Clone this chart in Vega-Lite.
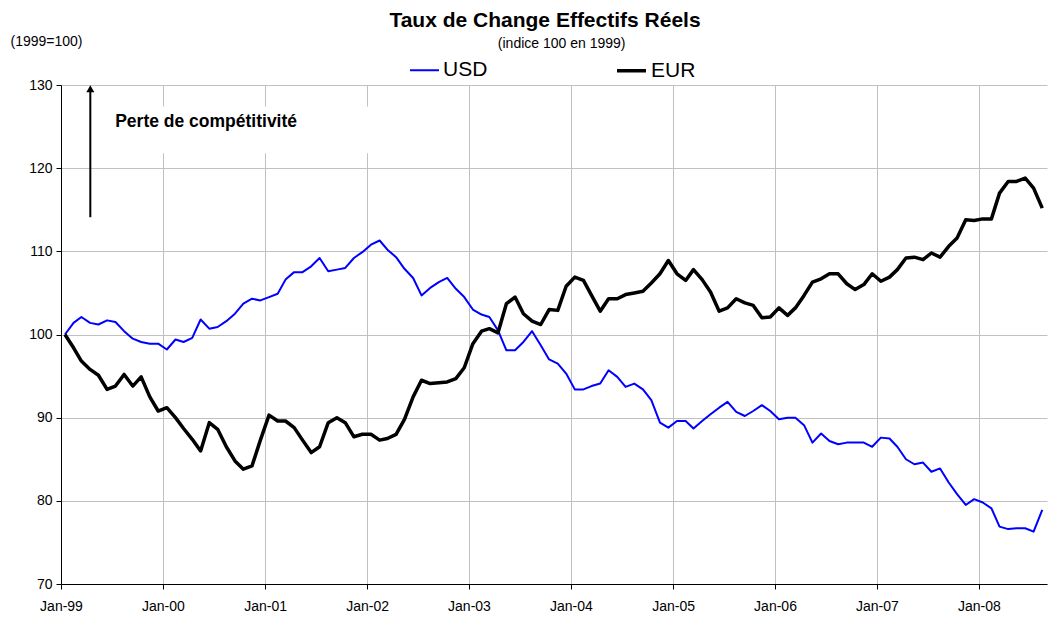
{
  "$schema": "https://vega.github.io/schema/vega-lite/v6.json",
  "width": 986,
  "height": 499,
  "autosize": {"type": "none"},
  "padding": {"left": 61, "top": 85, "right": 3, "bottom": 35},
  "background": "white",
  "config": {
    "view": {"stroke": null},
    "font": "Liberation Sans",
    "axis": {
      "gridColor": "#c0c0c0",
      "gridWidth": 1,
      "domainColor": "#000000",
      "domainWidth": 1,
      "tickColor": "#000000",
      "tickSize": 5,
      "labelColor": "#000000",
      "labelFont": "Liberation Sans",
      "labelFontSize": 14,
      "labelFlush": false
    }
  },
  "title": {
    "text": "Taux de Change Effectifs Réels",
    "anchor": "middle",
    "font": "Liberation Sans",
    "fontSize": 21,
    "fontWeight": "bold",
    "color": "#000000",
    "dx": -9,
    "offset": 3
  },
  "data": {
    "values": [
      {"d": "1999-01-15", "USD": 100, "EUR": 100},
      {"d": "1999-02-15", "USD": 101.4, "EUR": 98.4},
      {"d": "1999-03-15", "USD": 102.1, "EUR": 96.8},
      {"d": "1999-04-15", "USD": 101.4, "EUR": 95.8},
      {"d": "1999-05-15", "USD": 101.2, "EUR": 95.1},
      {"d": "1999-06-15", "USD": 101.7, "EUR": 93.4},
      {"d": "1999-07-15", "USD": 101.5, "EUR": 93.8},
      {"d": "1999-08-15", "USD": 100.4, "EUR": 95.2},
      {"d": "1999-09-15", "USD": 99.5, "EUR": 93.8},
      {"d": "1999-10-15", "USD": 99.1, "EUR": 94.9},
      {"d": "1999-11-15", "USD": 98.9, "EUR": 92.5},
      {"d": "1999-12-15", "USD": 98.9, "EUR": 90.8},
      {"d": "2000-01-15", "USD": 98.2, "EUR": 91.2},
      {"d": "2000-02-15", "USD": 99.4, "EUR": 90.0},
      {"d": "2000-03-15", "USD": 99.1, "EUR": 88.7},
      {"d": "2000-04-15", "USD": 99.6, "EUR": 87.4},
      {"d": "2000-05-15", "USD": 101.8, "EUR": 86.0},
      {"d": "2000-06-15", "USD": 100.7, "EUR": 89.4},
      {"d": "2000-07-15", "USD": 100.9, "EUR": 88.6},
      {"d": "2000-08-15", "USD": 101.6, "EUR": 86.5},
      {"d": "2000-09-15", "USD": 102.5, "EUR": 84.8},
      {"d": "2000-10-15", "USD": 103.7, "EUR": 83.8},
      {"d": "2000-11-15", "USD": 104.3, "EUR": 84.2},
      {"d": "2000-12-15", "USD": 104.1, "EUR": 87.3},
      {"d": "2001-01-15", "USD": 104.5, "EUR": 90.3},
      {"d": "2001-02-15", "USD": 104.9, "EUR": 89.6},
      {"d": "2001-03-15", "USD": 106.6, "EUR": 89.6},
      {"d": "2001-04-15", "USD": 107.5, "EUR": 88.8},
      {"d": "2001-05-15", "USD": 107.5, "EUR": 87.3},
      {"d": "2001-06-15", "USD": 108.2, "EUR": 85.8},
      {"d": "2001-07-15", "USD": 109.2, "EUR": 86.5},
      {"d": "2001-08-15", "USD": 107.6, "EUR": 89.4},
      {"d": "2001-09-15", "USD": 107.8, "EUR": 90.0},
      {"d": "2001-10-15", "USD": 108.0, "EUR": 89.4},
      {"d": "2001-11-15", "USD": 109.2, "EUR": 87.7},
      {"d": "2001-12-15", "USD": 109.9, "EUR": 88.0},
      {"d": "2002-01-15", "USD": 110.8, "EUR": 88.0},
      {"d": "2002-02-15", "USD": 111.3, "EUR": 87.3},
      {"d": "2002-03-15", "USD": 110.2, "EUR": 87.5},
      {"d": "2002-04-15", "USD": 109.3, "EUR": 88.0},
      {"d": "2002-05-15", "USD": 107.9, "EUR": 89.8},
      {"d": "2002-06-15", "USD": 106.8, "EUR": 92.5},
      {"d": "2002-07-15", "USD": 104.7, "EUR": 94.5},
      {"d": "2002-08-15", "USD": 105.6, "EUR": 94.1},
      {"d": "2002-09-15", "USD": 106.3, "EUR": 94.2},
      {"d": "2002-10-15", "USD": 106.8, "EUR": 94.3},
      {"d": "2002-11-15", "USD": 105.5, "EUR": 94.7},
      {"d": "2002-12-15", "USD": 104.5, "EUR": 96.0},
      {"d": "2003-01-15", "USD": 103.0, "EUR": 98.9},
      {"d": "2003-02-15", "USD": 102.4, "EUR": 100.4},
      {"d": "2003-03-15", "USD": 102.1, "EUR": 100.7},
      {"d": "2003-04-15", "USD": 100.5, "EUR": 100.2},
      {"d": "2003-05-15", "USD": 98.1, "EUR": 103.7},
      {"d": "2003-06-15", "USD": 98.1, "EUR": 104.5},
      {"d": "2003-07-15", "USD": 99.1, "EUR": 102.5},
      {"d": "2003-08-15", "USD": 100.4, "EUR": 101.6},
      {"d": "2003-09-15", "USD": 98.7, "EUR": 101.2},
      {"d": "2003-10-15", "USD": 97.0, "EUR": 103.0},
      {"d": "2003-11-15", "USD": 96.5, "EUR": 102.9},
      {"d": "2003-12-15", "USD": 95.3, "EUR": 105.8},
      {"d": "2004-01-15", "USD": 93.4, "EUR": 106.9},
      {"d": "2004-02-15", "USD": 93.4, "EUR": 106.5},
      {"d": "2004-03-15", "USD": 93.8, "EUR": 104.7},
      {"d": "2004-04-15", "USD": 94.1, "EUR": 102.8},
      {"d": "2004-05-15", "USD": 95.7, "EUR": 104.3},
      {"d": "2004-06-15", "USD": 94.9, "EUR": 104.3},
      {"d": "2004-07-15", "USD": 93.7, "EUR": 104.8},
      {"d": "2004-08-15", "USD": 94.1, "EUR": 105.0},
      {"d": "2004-09-15", "USD": 93.4, "EUR": 105.2},
      {"d": "2004-10-15", "USD": 92.1, "EUR": 106.2},
      {"d": "2004-11-15", "USD": 89.4, "EUR": 107.3},
      {"d": "2004-12-15", "USD": 88.8, "EUR": 108.9},
      {"d": "2005-01-15", "USD": 89.6, "EUR": 107.3},
      {"d": "2005-02-15", "USD": 89.6, "EUR": 106.5},
      {"d": "2005-03-15", "USD": 88.7, "EUR": 107.8},
      {"d": "2005-04-15", "USD": 89.6, "EUR": 106.6},
      {"d": "2005-05-15", "USD": 90.4, "EUR": 105.1},
      {"d": "2005-06-15", "USD": 91.2, "EUR": 102.8},
      {"d": "2005-07-15", "USD": 91.9, "EUR": 103.2},
      {"d": "2005-08-15", "USD": 90.7, "EUR": 104.3},
      {"d": "2005-09-15", "USD": 90.2, "EUR": 103.8},
      {"d": "2005-10-15", "USD": 90.8, "EUR": 103.5},
      {"d": "2005-11-15", "USD": 91.5, "EUR": 102.0},
      {"d": "2005-12-15", "USD": 90.8, "EUR": 102.1},
      {"d": "2006-01-15", "USD": 89.8, "EUR": 103.2},
      {"d": "2006-02-15", "USD": 90.0, "EUR": 102.3},
      {"d": "2006-03-15", "USD": 90.0, "EUR": 103.2},
      {"d": "2006-04-15", "USD": 89.1, "EUR": 104.7},
      {"d": "2006-05-15", "USD": 87.0, "EUR": 106.3},
      {"d": "2006-06-15", "USD": 88.1, "EUR": 106.7},
      {"d": "2006-07-15", "USD": 87.2, "EUR": 107.3},
      {"d": "2006-08-15", "USD": 86.8, "EUR": 107.3},
      {"d": "2006-09-15", "USD": 87.0, "EUR": 106.1},
      {"d": "2006-10-15", "USD": 87.0, "EUR": 105.4},
      {"d": "2006-11-15", "USD": 87.0, "EUR": 106.0},
      {"d": "2006-12-15", "USD": 86.5, "EUR": 107.3},
      {"d": "2007-01-15", "USD": 87.6, "EUR": 106.4},
      {"d": "2007-02-15", "USD": 87.5, "EUR": 106.9},
      {"d": "2007-03-15", "USD": 86.5, "EUR": 107.8},
      {"d": "2007-04-15", "USD": 85.0, "EUR": 109.2},
      {"d": "2007-05-15", "USD": 84.4, "EUR": 109.3},
      {"d": "2007-06-15", "USD": 84.6, "EUR": 109.0},
      {"d": "2007-07-15", "USD": 83.5, "EUR": 109.8},
      {"d": "2007-08-15", "USD": 83.9, "EUR": 109.3},
      {"d": "2007-09-15", "USD": 82.2, "EUR": 110.6},
      {"d": "2007-10-15", "USD": 80.8, "EUR": 111.6},
      {"d": "2007-11-15", "USD": 79.5, "EUR": 113.8},
      {"d": "2007-12-15", "USD": 80.2, "EUR": 113.7},
      {"d": "2008-01-15", "USD": 79.8, "EUR": 113.9},
      {"d": "2008-02-15", "USD": 79.1, "EUR": 113.9},
      {"d": "2008-03-15", "USD": 76.9, "EUR": 117.0},
      {"d": "2008-04-15", "USD": 76.6, "EUR": 118.4},
      {"d": "2008-05-15", "USD": 76.7, "EUR": 118.4},
      {"d": "2008-06-15", "USD": 76.7, "EUR": 118.8},
      {"d": "2008-07-15", "USD": 76.3, "EUR": 117.6},
      {"d": "2008-08-15", "USD": 78.9, "EUR": 115.2}
    ]
  },
  "layer": [
    {
      "data": {"values": [{}]},
      "mark": {"type": "rect", "fill": "white", "stroke": null},
      "encoding": {
        "x": {"datum": {"year": 1999, "month": 1, "date": 20, "utc": true}, "type": "temporal"},
        "x2": {"datum": {"year": 2002, "month": 2, "date": 15, "utc": true}},
        "y": {"datum": 121.8, "type": "quantitative"},
        "y2": {"datum": 127.4}
      }
    },
    {
      "transform": [{"fold": ["USD", "EUR"], "as": ["series", "value"]}],
      "mark": {"type": "line", "strokeJoin": "round"},
      "encoding": {
        "x": {
          "field": "d",
          "type": "temporal",
          "scale": {
            "type": "utc",
            "domain": [
              {"year": 1999, "month": 1, "date": 1, "utc": true},
              {"year": 2008, "month": 9, "date": 1, "utc": true}
            ]
          },
          "axis": {
            "title": null,
            "grid": true,
            "values": [
              {"year": 1999, "month": 1, "date": 1, "utc": true},
              {"year": 2000, "month": 1, "date": 1, "utc": true},
              {"year": 2001, "month": 1, "date": 1, "utc": true},
              {"year": 2002, "month": 1, "date": 1, "utc": true},
              {"year": 2003, "month": 1, "date": 1, "utc": true},
              {"year": 2004, "month": 1, "date": 1, "utc": true},
              {"year": 2005, "month": 1, "date": 1, "utc": true},
              {"year": 2006, "month": 1, "date": 1, "utc": true},
              {"year": 2007, "month": 1, "date": 1, "utc": true},
              {"year": 2008, "month": 1, "date": 1, "utc": true}
            ],
            "labelExpr": "utcFormat(datum.value, '%b-%y')",
            "labelPadding": 10,
            "labelFontSize": 14,
            "labelFlush": false,
            "zindex": 0
          }
        },
        "y": {
          "field": "value",
          "type": "quantitative",
          "scale": {"domain": [70, 130], "nice": false, "zero": false},
          "axis": {
            "values": [70, 80, 90, 100, 110, 120, 130],
            "grid": true,
            "title": "(1999=100)",
            "titleAngle": 0,
            "titleAlign": "left",
            "titleBaseline": "middle",
            "titleX": -51,
            "titleY": -44,
            "titleFont": "Liberation Sans",
            "titleFontSize": 14,
            "titleFontWeight": "normal",
            "titleColor": "#000000",
            "labelPadding": 4,
            "labelFontSize": 14,
            "labelFlush": false
          }
        },
        "color": {
          "field": "series",
          "type": "nominal",
          "scale": {"domain": ["USD", "EUR"], "range": ["#0000ff", "#000000"]},
          "legend": {
            "orient": "none",
            "legendX": 348,
            "legendY": -31,
            "direction": "horizontal",
            "title": null,
            "symbolType": "stroke",
            "symbolSize": 841,
            "labelFont": "Liberation Sans",
            "labelFontSize": 21,
            "labelColor": "#000000",
            "labelOffset": 3,
            "columnPadding": 122
          }
        },
        "strokeWidth": {
          "field": "series",
          "type": "nominal",
          "scale": {"domain": ["USD", "EUR"], "range": [2, 3.5]},
          "legend": {
            "orient": "none",
            "legendX": 348,
            "legendY": -31,
            "direction": "horizontal",
            "title": null,
            "symbolType": "stroke",
            "symbolSize": 841,
            "labelFont": "Liberation Sans",
            "labelFontSize": 21,
            "labelColor": "#000000",
            "labelOffset": 3,
            "columnPadding": 122
          }
        }
      }
    },
    {
      "data": {"values": [{}]},
      "mark": {"type": "rule", "color": "#000000", "strokeWidth": 2},
      "encoding": {
        "x": {"datum": {"year": 1999, "month": 4, "date": 16, "utc": true}, "type": "temporal"},
        "y": {"datum": 114.1, "type": "quantitative"},
        "y2": {"datum": 129.2}
      }
    },
    {
      "data": {"values": [{}]},
      "mark": {"type": "point", "shape": "triangle-up", "filled": true, "color": "#000000", "size": 64, "opacity": 1},
      "encoding": {
        "x": {"datum": {"year": 1999, "month": 4, "date": 16, "utc": true}, "type": "temporal"},
        "y": {"datum": 129.55, "type": "quantitative"}
      }
    },
    {
      "data": {"values": [{}]},
      "mark": {"type": "text", "text": "Perte de compétitivité", "align": "left", "baseline": "middle", "font": "Liberation Sans", "fontSize": 17.5, "fontWeight": "bold", "color": "#000000"},
      "encoding": {
        "x": {"datum": {"year": 1999, "month": 7, "date": 14, "utc": true}, "type": "temporal"},
        "y": {"datum": 125.6, "type": "quantitative"}
      }
    },
    {
      "data": {"values": [{}]},
      "mark": {"type": "text", "text": "(indice 100 en 1999)", "align": "center", "baseline": "middle", "font": "Liberation Sans", "fontSize": 14, "color": "#000000", "clip": false},
      "encoding": {
        "x": {"datum": {"year": 2003, "month": 11, "date": 29, "utc": true}, "type": "temporal"},
        "y": {"datum": 134.9, "type": "quantitative"}
      }
    }
  ]
}
